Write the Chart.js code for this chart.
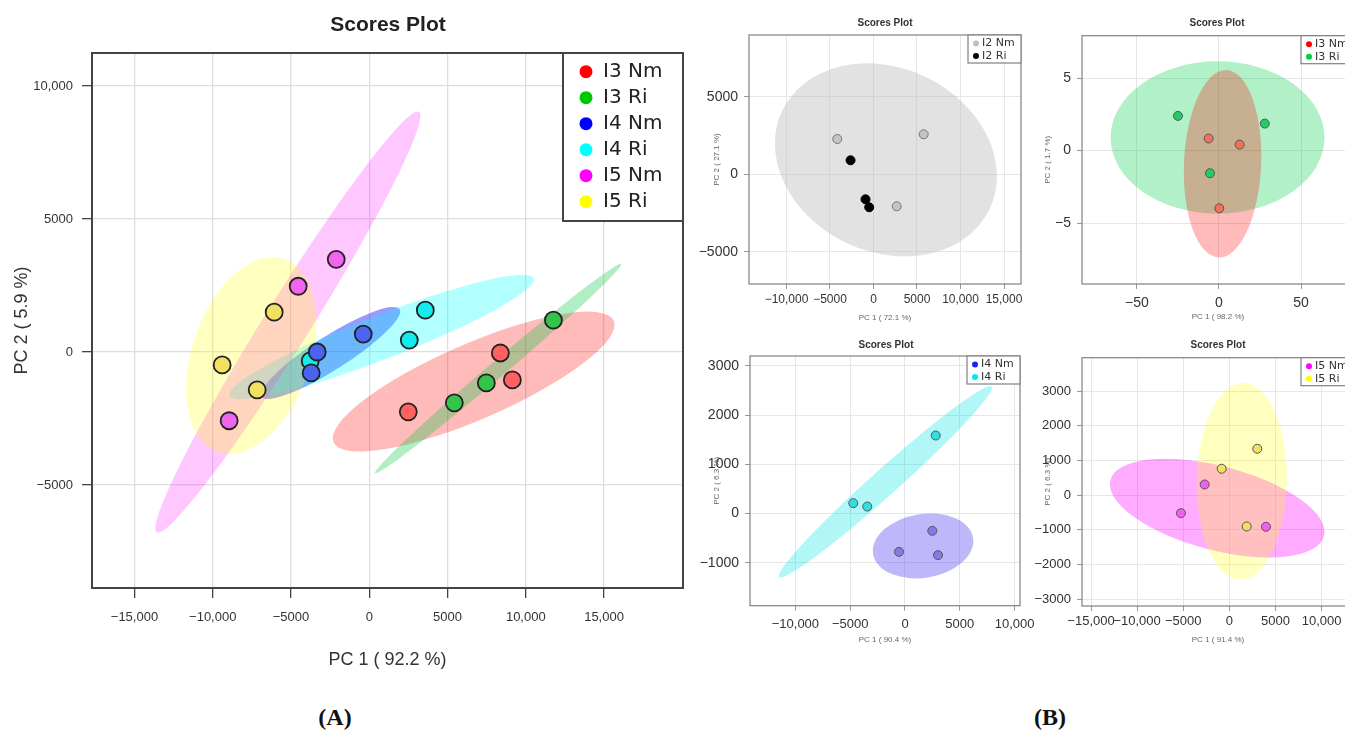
<!DOCTYPE html>
<html>
<head>
<meta charset="utf-8">
<script src="https://cdn.jsdelivr.net/npm/chart.js@4.4.1/dist/chart.umd.min.js"></script>
<style>
  html, body { margin: 0; padding: 0; background: #fff; }
  body { width: 1345px; height: 731px; overflow: hidden; position: relative; }
  .cv { position: absolute; }
  .lbl { position: absolute; transform: translate(-50%, -50%); white-space: nowrap; }
  .ttlA { font: bold 21px 'Liberation Sans', Arial, sans-serif; color: #222; }
  .ttlB { font: bold 10px 'Liberation Sans', Arial, sans-serif; color: #333; }
  .panel { font: bold 24px 'Liberation Serif', 'Times New Roman', serif; color: #111; }
</style>
</head>
<body>
<div class="cv" style="left:0;top:30px;width:713px;height:660px"><canvas id="chartA"></canvas></div>
<div class="cv" style="left:695px;top:15px;width:356px;height:315px"><canvas id="chartB1"></canvas></div>
<div class="cv" style="left:1028px;top:15px;width:356px;height:315px"><canvas id="chartB2"></canvas></div>
<div class="cv" style="left:695px;top:336px;width:355px;height:316px"><canvas id="chartB3"></canvas></div>
<div class="cv" style="left:1028px;top:337px;width:356px;height:315px"><canvas id="chartB4"></canvas></div>

<div class="lbl ttlA" style="left:388px;top:24px">Scores Plot</div>
<div class="lbl ttlB" style="left:885px;top:22px">Scores Plot</div>
<div class="lbl ttlB" style="left:1217px;top:22px">Scores Plot</div>
<div class="lbl ttlB" style="left:886px;top:344px">Scores Plot</div>
<div class="lbl ttlB" style="left:1218px;top:344px">Scores Plot</div>
<div class="lbl panel" style="left:335px;top:717px">(A)</div>
<div class="lbl panel" style="left:1050px;top:717px">(B)</div>

<script>
// ---- Panel A: all groups ----
const groupsA = ['I3 Nm', 'I3 Ri', 'I4 Nm', 'I4 Ri', 'I5 Nm', 'I5 Ri'];
const pc1A = [[8376, 9143, 2494], [11765, 7481, 5435], [-384, -3325, -3709],
              [3581, 2558, -3772], [-2110, -4540, -8952], [-6074, -9399, -7161]];
const pc2A = [[-37, -1049, -2247], [1198, -1161, -1910], [674, 0, -786],
              [1573, 449, -337], [3483, 2472, -2584], [1498, -487, -1423]];
// ellipse: centre x, centre y, semi-axis a (dx, dy), semi-axis b (dx, dy)
const ellA = [[6671, -1111, 8952, 2284, 972, -1303],
              [8227, -624, 7865, 3932, 332, -228],
              [-2473, -37, 4412, 1648, 582, -536],
              [789, 562, 9719, 2210, 512, -768],
              [-5201, 1124, 8376, 7902, 1253, -453],
              [-7545, -137, 2110, 3633, 3581, -712]];
const xRangeA = [-17714, 20045];
const yRangeA = [-8872, 11241];
const xTicksA = [-15000, -10000, -5000, 0, 5000, 10000, 15000];
const yTicksA = [-5000, 0, 5000, 10000];

// ---- Panel B1: I2 ----
const groupsB1 = ['I2 Nm', 'I2 Ri'];
const pc1B1 = [[-4164, 5769, 2672], [-2638, -918, -493]];
const pc2B1 = [[2290, 2593, -2051], [916, -1600, -2116]];
const ellB1 = [[1426, 944, 11952, -3135, -4462, -5379]];
const xRangeB1 = [-14310, 16954];
const yRangeB1 = [-7065, 9000];
const xTicksB1 = [-10000, -5000, 0, 5000, 10000, 15000];
const yTicksB1 = [-5000, 0, 5000];

// ---- Panel B2: I3 ----
const groupsB2 = ['I3 Nm', 'I3 Ri'];
const pc1B2 = [[-6.3, 12.6, 0.2], [-25.0, 27.9, -5.5]];
const pc2B2 = [[0.83, 0.41, -3.98], [2.39, 1.86, -1.56]];
const ellB2 = [[2.17, -0.91, 2.4, 6.46, 23.5, -0.11], [-0.87, 0.90, 65.2, 0, 0, -5.25]];
const xRangeB2 = [-83.5, 82.3];
const yRangeB2 = [-9.2, 7.92];
const xTicksB2 = [-50, 0, 50];
const yTicksB2 = [-5, 0, 5];

// ---- Panel B3: I4 ----
const groupsB3 = ['I4 Nm', 'I4 Ri'];
const pc1B3 = [[2490, -547, 3011], [2801, -4717, -3440]];
const pc2B3 = [[-352, -779, -846], [1586, 211, 142]];
const ellB3 = [[1651, -659, 4562, 163, 456, -640], [-1785, 646, 9699, 1935, 794, -197]];
const xRangeB3 = [-14142, 10493];
const yRangeB3 = [-1874, 3203];
const xTicksB3 = [-10000, -5000, 0, 5000, 10000];
const yTicksB3 = [-1000, 0, 1000, 2000, 3000];

// ---- Panel B4: I5 ----
const groupsB4 = ['I5 Nm', 'I5 Ri'];
const pc1B4 = [[-2679, -5250, 3970], [3026, -835, 1876]];
const pc2B4 = [[308, -519, -911], [1337, 761, -902]];
const ellB4 = [[-1320, -374, 11583, -807, -1160, -1170], [1356, 399, 163, 2833, 4881, 0]];
const xRangeB4 = [-15976, 13514];
const yRangeB4 = [-3193, 3960];
const xTicksB4 = [-15000, -10000, -5000, 0, 5000, 10000];
const yTicksB4 = [-3000, -2000, -1000, 0, 1000, 2000, 3000];

const fmt = v => (v < 0 ? '\u2212' : '') + (Math.abs(v) >= 10000 ? Math.abs(v).toLocaleString('en-US') : String(Math.abs(v)));

// draws filled confidence ellipses through the chart scales
const ellipsePlugin = {
  id: 'ellipses',
  beforeDatasetsDraw(chart, args, opts) {
    const { ctx, chartArea: ca, scales: { x, y } } = chart;
    ctx.save();
    ctx.beginPath();
    ctx.rect(ca.left, ca.top, ca.width, ca.height);
    ctx.clip();
    opts.order.forEach(i => {
      const [cx, cy, ax, ay, bx, by] = opts.items[i];
      const px = x.getPixelForValue(cx), py = y.getPixelForValue(cy);
      ctx.save();
      ctx.transform(
        x.getPixelForValue(cx + ax) - px, y.getPixelForValue(cy + ay) - py,
        x.getPixelForValue(cx + bx) - px, y.getPixelForValue(cy + by) - py,
        px, py);
      ctx.beginPath();
      ctx.arc(0, 0, 1, 0, Math.PI * 2);
      ctx.restore();
      ctx.fillStyle = opts.colors[i];
      ctx.fill();
    });
    ctx.restore();
  }
};

// plot frame + boxed legend in the top right corner
const framePlugin = {
  id: 'frame',
  afterDraw(chart, args, o) {
    const { ctx, chartArea: ca } = chart;
    ctx.save();
    ctx.strokeStyle = o.border;
    ctx.lineWidth = o.lw;
    ctx.strokeRect(ca.left, ca.top, ca.width, ca.height);
    const x0 = ca.right - o.w, y0 = ca.top;
    ctx.fillStyle = '#fff';
    ctx.fillRect(x0, y0, o.w, o.h);
    ctx.strokeRect(x0, y0, o.w, o.h);
    ctx.font = o.font;
    ctx.textBaseline = 'middle';
    chart.data.datasets.forEach((ds, i) => {
      const yy = y0 + o.first + i * o.step;
      ctx.fillStyle = o.dots[i];
      ctx.beginPath();
      ctx.arc(x0 + o.dx, yy, o.r, 0, Math.PI * 2);
      ctx.fill();
      ctx.fillStyle = o.color;
      ctx.fillText(ds.label, x0 + o.tx, yy);
    });
    ctx.restore();
  }
};

function axis(range, tickVals, s) {
  return {
    type: 'linear',
    min: range[0],
    max: range[1],
    afterBuildTicks: sc => { sc.ticks = tickVals.map(v => ({ value: v })); },
    ticks: {
      autoSkip: false, maxRotation: 0,
      padding: s.tickPad, color: s.tickColor, font: s.tickFont, callback: fmt
    },
    grid: { color: s.grid, lineWidth: s.gridW, tickLength: s.tl, tickColor: s.tc },
    border: { display: false },
    title: { display: true, text: s.title, color: s.titleColor, font: s.titleFont, padding: s.titlePad },
    afterFit: s.fit
  };
}

function buildChart(id, d, st) {
  const datasets = d.groups.map((g, i) => ({
    label: g,
    data: d.pc1[i].map((v, k) => ({ x: v, y: d.pc2[i][k] })),
    backgroundColor: st.pointColors[i],
    borderColor: st.pointBorder[i],
    borderWidth: st.pbw,
    pointRadius: st.r,
    pointHoverRadius: st.r
  }));
  return new Chart(document.getElementById(id), {
    type: 'scatter',
    data: { datasets },
    plugins: [ellipsePlugin, framePlugin],
    options: {
      animation: false,
      responsive: true,
      maintainAspectRatio: false,
      events: [],
      layout: { padding: { left: 0, top: st.padTop, right: st.padRight, bottom: 0 } },
      scales: {
        x: axis(d.xr, d.xt, Object.assign({}, st.axis, st.xAxis)),
        y: axis(d.yr, d.yt, Object.assign({}, st.axis, st.yAxis))
      },
      plugins: {
        legend: { display: false },
        tooltip: { enabled: false },
        ellipses: { items: d.ell, colors: st.ellColors, order: st.ellOrder },
        frame: st.frame
      }
    }
  });
}

const sans = "'Liberation Sans', Arial, sans-serif";

// ---------- Panel A ----------
buildChart('chartA',
  { groups: groupsA, pc1: pc1A, pc2: pc2A, ell: ellA, xr: xRangeA, yr: yRangeA, xt: xTicksA, yt: yTicksA },
  {
    pointColors: ['#ff6060', '#34c44c', '#4a64f0', '#12ecec', '#f064f0', '#f2e060'],
    pointBorder: ['#222', '#222', '#222', '#222', '#222', '#222'],
    pbw: 1.8, r: 8.5,
    padTop: 23, padRight: 30,
    axis: {
      tickColor: '#333', tickFont: { family: sans, size: 13 },
      grid: '#dedede', gridW: 1.3, tl: 10, tc: '#444',
      titleColor: '#333', titleFont: { family: sans, size: 18 }
    },
    xAxis: { title: 'PC 1 ( 92.2 %)', tickPad: 12, titlePad: { top: 0, bottom: 19 }, fit: s => { s.height = 102; } },
    yAxis: { title: 'PC 2 ( 5.9 %)', tickPad: 9, titlePad: { top: 11, bottom: 0 }, fit: s => { s.width = 92; } },
    ellColors: ['rgba(255,0,0,0.27)', 'rgba(0,200,60,0.3)', 'rgba(0,0,255,0.4)',
                'rgba(0,255,255,0.3)', 'rgba(255,0,255,0.22)', 'rgba(255,255,0,0.25)'],
    ellOrder: [0, 1, 2, 3, 4, 5],
    frame: {
      border: '#444', lw: 2, w: 120, h: 168, dx: 23, tx: 40, first: 18.7, step: 26, r: 6.5,
      font: "20px 'DejaVu Sans', sans-serif", color: '#222',
      dots: ['#ff0000', '#00c800', '#0000ff', '#00ffff', '#ff00ff', '#ffff00']
    }
  });

// ---------- Panel B (shared style) ----------
function styleB(o) {
  return {
    pointColors: o.pointColors,
    pointBorder: o.pointBorder,
    pbw: 1, r: 4.5,
    padTop: o.padTop, padRight: 30,
    axis: {
      tickColor: '#333',
      grid: '#e6e6e6', gridW: 1, tl: 5, tc: '#999',
      titleColor: '#666', titleFont: { family: sans, size: 8 }
    },
    xAxis: { title: o.xTitle, tickFont: { family: sans, size: o.xFont || 12 }, tickPad: o.xPad,
             titlePad: { top: 0, bottom: o.xtPad }, fit: s => { s.height = o.xH; } },
    yAxis: { title: o.yTitle, tickFont: { family: sans, size: o.yFont || 14 }, tickPad: 6,
             titlePad: { top: o.ytPad, bottom: 0 }, fit: s => { s.width = o.yW; } },
    ellColors: o.ellColors,
    ellOrder: o.ellOrder,
    frame: {
      border: '#808080', lw: 1.2, w: 53, h: 28, dx: 8, tx: 14, first: 8.5, step: 12.5, r: 3,
      font: "11px 'DejaVu Sans', sans-serif", color: '#333', dots: o.dots
    }
  };
}

buildChart('chartB1',
  { groups: groupsB1, pc1: pc1B1, pc2: pc2B1, ell: ellB1, xr: xRangeB1, yr: yRangeB1, xt: xTicksB1, yt: yTicksB1 },
  styleB({
    pointColors: ['#c4c4c4', '#000000'], pointBorder: ['#777', '#000'],
    padTop: 20, xH: 46, yW: 54, xPad: 3.5, xtPad: 7, ytPad: 17,
    xTitle: 'PC 1 ( 72.1 %)', yTitle: 'PC 2 ( 27.1 %)',
    ellColors: ['rgba(190,190,190,0.45)'], ellOrder: [0],
    dots: ['#c0c0c0', '#000000']
  }));

buildChart('chartB2',
  { groups: groupsB2, pc1: pc1B2, pc2: pc2B2, ell: ellB2, xr: xRangeB2, yr: yRangeB2, xt: xTicksB2, yt: yTicksB2 },
  styleB({
    pointColors: ['#f07058', '#22cc66'], pointBorder: ['#555', '#555'],
    padTop: 20.7, xH: 46, yW: 54, xPad: 5.5, xtPad: 8.5, ytPad: 15, xFont: 14,
    xTitle: 'PC 1 ( 98.2 %)', yTitle: 'PC 2 ( 1.7 %)',
    ellColors: ['rgba(255,0,0,0.27)', 'rgba(0,210,70,0.3)'], ellOrder: [1, 0],
    dots: ['#ff0000', '#00d040']
  }));

buildChart('chartB3',
  { groups: groupsB3, pc1: pc1B3, pc2: pc2B3, ell: ellB3, xr: xRangeB3, yr: yRangeB3, xt: xTicksB3, yt: yTicksB3 },
  styleB({
    pointColors: ['#8a78e6', '#30e0e0'], pointBorder: ['#555', '#555'],
    padTop: 20, xH: 46.3, yW: 55, xPad: 5.5, xtPad: 7, ytPad: 17, xFont: 13,
    xTitle: 'PC 1 ( 90.4 %)', yTitle: 'PC 2 ( 6.3 %)',
    ellColors: ['rgba(70,50,240,0.35)', 'rgba(0,230,230,0.3)'], ellOrder: [1, 0],
    dots: ['#2020ff', '#00e8f0']
  }));

buildChart('chartB4',
  { groups: groupsB4, pc1: pc1B4, pc2: pc2B4, ell: ellB4, xr: xRangeB4, yr: yRangeB4, xt: xTicksB4, yt: yTicksB4 },
  styleB({
    pointColors: ['#f060f0', '#f0e060'], pointBorder: ['#555', '#555'],
    padTop: 20.7, xH: 46, yW: 54, xPad: 2.5, xtPad: 7, ytPad: 15, xFont: 13, yFont: 13,
    xTitle: 'PC 1 ( 91.4 %)', yTitle: 'PC 2 ( 6.3 %)',
    ellColors: ['rgba(255,0,255,0.33)', 'rgba(255,255,0,0.25)'], ellOrder: [0, 1],
    dots: ['#ff00ff', '#ffff00']
  }));
</script>
</body>
</html>
